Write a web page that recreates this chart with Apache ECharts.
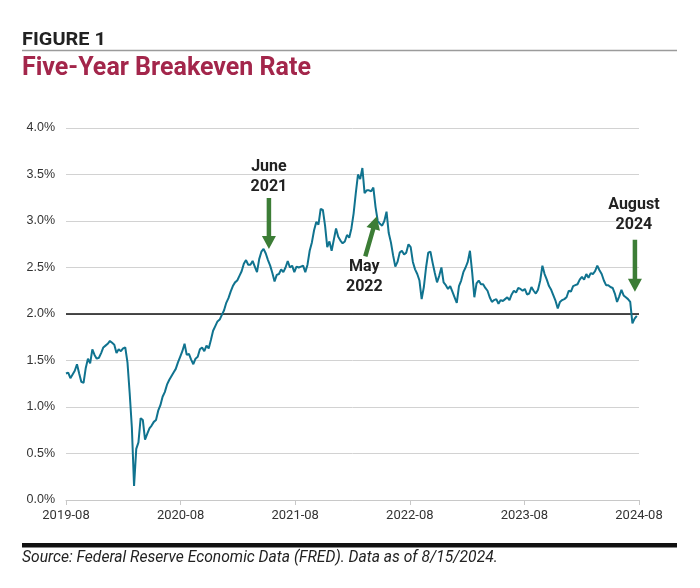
<!DOCTYPE html>
<html>
<head>
<meta charset="utf-8">
<title>Five-Year Breakeven Rate</title>
<script src="https://cdn.jsdelivr.net/npm/echarts@6/dist/echarts.min.js"></script>
<style>
  html, body { margin: 0; padding: 0; background: #fff; }
  #chart { width: 700px; height: 588px; }
</style>
</head>
<body>
<div id="chart"></div>
<script>
// weekly readings of the 5y breakeven (%), one per week from startDate to endDate
const startDate = '2019-08-15'
const endDate = '2024-08-15'
const rate = [
  // 2019-08 .. 2020-02
  1.36, 1.37, 1.31, 1.35, 1.39, 1.46, 1.36, 1.27, 1.26, 1.42, 1.52, 1.47, 1.62,
  1.56, 1.52, 1.53, 1.58, 1.64, 1.66, 1.68, 1.71, 1.69, 1.67, 1.58, 1.62, 1.60,
  // 2020-02 .. 2020-08
  1.63, 1.64, 1.48, 1.15, 0.78, 0.15, 0.55, 0.62, 0.88, 0.86, 0.65, 0.71, 0.77,
  0.80, 0.84, 0.86, 0.96, 1.02, 1.11, 1.16, 1.24, 1.29, 1.33, 1.37, 1.41, 1.48,
  // 2020-08 .. 2021-02
  1.54, 1.60, 1.68, 1.56, 1.57, 1.51, 1.46, 1.52, 1.54, 1.62, 1.64, 1.60, 1.66,
  1.63, 1.72, 1.82, 1.87, 1.92, 1.94, 1.99, 2.04, 2.12, 2.17, 2.24, 2.30, 2.34,
  // 2021-02 .. 2021-08
  2.36, 2.41, 2.46, 2.54, 2.58, 2.53, 2.53, 2.57, 2.51, 2.45, 2.59, 2.67, 2.70,
  2.65, 2.58, 2.52, 2.44, 2.35, 2.42, 2.43, 2.48, 2.45, 2.50, 2.57, 2.50, 2.52,
  // 2021-08 .. 2022-02
  2.45, 2.51, 2.50, 2.51, 2.52, 2.45, 2.53, 2.68, 2.77, 2.90, 2.99, 2.96, 3.13,
  3.12, 2.95, 2.72, 2.78, 2.68, 2.80, 2.92, 2.83, 2.79, 2.76, 2.78, 2.85, 2.82,
  // 2022-02 .. 2022-08
  2.92, 3.08, 3.30, 3.50, 3.45, 3.57, 3.30, 3.33, 3.33, 3.32, 3.36, 3.15, 3.00,
  2.97, 2.95, 3.00, 3.10, 2.87, 2.77, 2.63, 2.51, 2.56, 2.66, 2.68, 2.64, 2.66,
  // 2022-08 .. 2023-02
  2.75, 2.72, 2.56, 2.48, 2.43, 2.36, 2.16, 2.29, 2.50, 2.66, 2.67, 2.55, 2.44,
  2.34, 2.41, 2.50, 2.34, 2.31, 2.27, 2.30, 2.24, 2.18, 2.12, 2.30, 2.36, 2.45,
  // 2023-02 .. 2023-08
  2.50, 2.56, 2.68, 2.45, 2.18, 2.33, 2.36, 2.32, 2.32, 2.28, 2.25, 2.18, 2.13,
  2.15, 2.16, 2.11, 2.15, 2.14, 2.16, 2.18, 2.15, 2.21, 2.25, 2.23, 2.28, 2.27,
  // 2023-08 .. 2024-02
  2.25, 2.27, 2.21, 2.22, 2.29, 2.25, 2.22, 2.26, 2.36, 2.52, 2.43, 2.37, 2.30,
  2.26, 2.20, 2.14, 2.06, 2.13, 2.15, 2.16, 2.18, 2.25, 2.24, 2.30, 2.31, 2.32,
  // 2024-02 .. 2024-08
  2.37, 2.40, 2.37, 2.43, 2.39, 2.44, 2.43, 2.46, 2.52, 2.47, 2.43, 2.36, 2.31,
  2.31, 2.29, 2.28, 2.22, 2.13, 2.19, 2.26, 2.20, 2.18, 2.16, 2.13, 1.90, 1.95,
  1.98
]
const xTickLabels = ['2019-08', '2020-08', '2021-08', '2022-08', '2023-08', '2024-08']
const yTicks = [0, 0.5, 1, 1.5, 2, 2.5, 3, 3.5, 4]
const refLevel = 2.0

// arrow annotations: tip sits on the date/value, the rest is pixel offsets
const notes = [
  { text: ['June', '2021'], date: '2021-05-23', value: 2.70, tail: [0, -51], label: [0, -82] },
  { text: ['May', '2022'], date: '2022-05-02', value: 3.05, tail: [-11.5, 40], label: [-12.5, 51] },
  { text: ['August', '2024'], date: '2024-08-02', value: 2.24, tail: [0, -52], label: [-1, -87] },
]

const DAY = 86400000
const t0 = Date.parse(startDate)
const span = (Date.parse(endDate) - t0) / DAY
const dayOf = (s) => (Date.parse(s) - t0) / DAY
const xStep = span / (xTickLabels.length - 1)

const chart = echarts.init(document.getElementById('chart'), null, { renderer: 'canvas' })

chart.setOption({
  animation: false,
  backgroundColor: '#fff',
  grid: { left: 66, right: 61, top: 128, bottom: 88, containLabel: false },
  xAxis: {
    type: 'value',
    min: 0,
    max: span,
    interval: xStep,
    axisLine: { lineStyle: { color: '#c8c8c8', width: 1 } },
    axisTick: { show: true, length: 5, lineStyle: { color: '#c8c8c8' } },
    splitLine: { show: false },
    axisLabel: {
      margin: 9,
      color: '#333',
      fontFamily: 'Roboto',
      fontSize: 13,
      showMinLabel: true,
      showMaxLabel: true,
      formatter: (v) => xTickLabels[Math.round(v / xStep)] || '',
    },
  },
  yAxis: {
    type: 'value',
    min: yTicks[0],
    max: yTicks[yTicks.length - 1],
    interval: yTicks[1] - yTicks[0],
    axisLine: { show: false },
    axisTick: { show: false },
    splitLine: { lineStyle: { color: '#d2d2d2', width: 1 } },
    axisLabel: {
      margin: 11,
      color: '#333',
      fontFamily: 'Liberation Sans',
      fontSize: 12.5,
      formatter: (v) => v.toFixed(1) + '%',
    },
  },
  series: [
    {
      type: 'line',
      data: rate.map((v, i) => [i * 7, v]),
      showSymbol: false,
      symbol: 'none',
      lineStyle: { color: '#10738f', width: 2 },
      z: 3,
      markLine: {
        silent: true,
        symbol: 'none',
        label: { show: false },
        lineStyle: { color: '#111', width: 1.5, type: 'solid' },
        data: [{ yAxis: refLevel }],
        z: 2,
      },
    },
  ],
})

// 箭头和注释
const arrowPoints = (tip, tail, shaftW, headL, headW) => {
  const dx = tip[0] - tail[0]
  const dy = tip[1] - tail[1]
  const len = Math.hypot(dx, dy)
  const ux = dx / len
  const uy = dy / len
  const nx = -uy
  const ny = ux
  const base = [tip[0] - ux * headL, tip[1] - uy * headL]
  const off = (p, s) => [p[0] + nx * s, p[1] + ny * s]
  return [
    off(tail, shaftW / 2), off(base, shaftW / 2), off(base, headW / 2), tip,
    off(base, -headW / 2), off(base, -shaftW / 2), off(tail, -shaftW / 2),
  ]
}

const textEl = (x, y, text, font, extra) => Object.assign({
  type: 'text',
  x: x,
  y: y,
  silent: true,
  style: Object.assign({
    text: text,
    fill: '#222',
    textAlign: 'left',
    textVerticalAlign: 'middle',
    align: 'left',
    verticalAlign: 'middle',
  }, font),
}, extra || {})

const graphics = []

// header
graphics.push(textEl(22, 40, 'FIGURE 1', { fontFamily: 'Roboto', fontWeight: 'bold', fontSize: 19, fill: '#222' }, { scaleX: 1.05 }))
graphics.push({
  type: 'line', silent: true,
  shape: { x1: 22, y1: 50.5, x2: 677, y2: 50.5 },
  style: { stroke: '#9b9b9b', lineWidth: 1.5 },
})
graphics.push(textEl(22, 69, 'Five-Year Breakeven Rate', { fontFamily: 'Roboto', fontWeight: 'bold', fontSize: 25, fill: '#a3264b' }))

// footer
graphics.push({
  type: 'rect', silent: true,
  shape: { x: 22, y: 543, width: 655, height: 4.5 },
  style: { fill: '#111' },
})
graphics.push(textEl(22, 558, 'Source: Federal Reserve Economic Data (FRED). Data as of 8/15/2024.',
  { fontFamily: 'Roboto', fontStyle: 'italic', fontSize: 17, fill: '#222' }, { scaleX: 0.92 }))

notes.forEach((n) => {
  const tip = chart.convertToPixel({ gridIndex: 0 }, [dayOf(n.date), n.value])
  const tail = [tip[0] + n.tail[0], tip[1] + n.tail[1]]
  graphics.push({
    type: 'polygon', silent: true,
    shape: { points: arrowPoints(tip, tail, 4.5, 13, 14) },
    style: { fill: '#3c7d36' },
    z: 10,
  })
  n.text.forEach((line, k) => {
    graphics.push(textEl(tip[0] + n.label[0], tip[1] + n.label[1] + k * 20, line,
      { fontFamily: 'Roboto', fontWeight: 'bold', fontSize: 16, fill: '#222', textAlign: 'center', align: 'center' },
      { z: 10 }))
  })
})

chart.setOption({ graphic: graphics })
</script>
</body>
</html>
